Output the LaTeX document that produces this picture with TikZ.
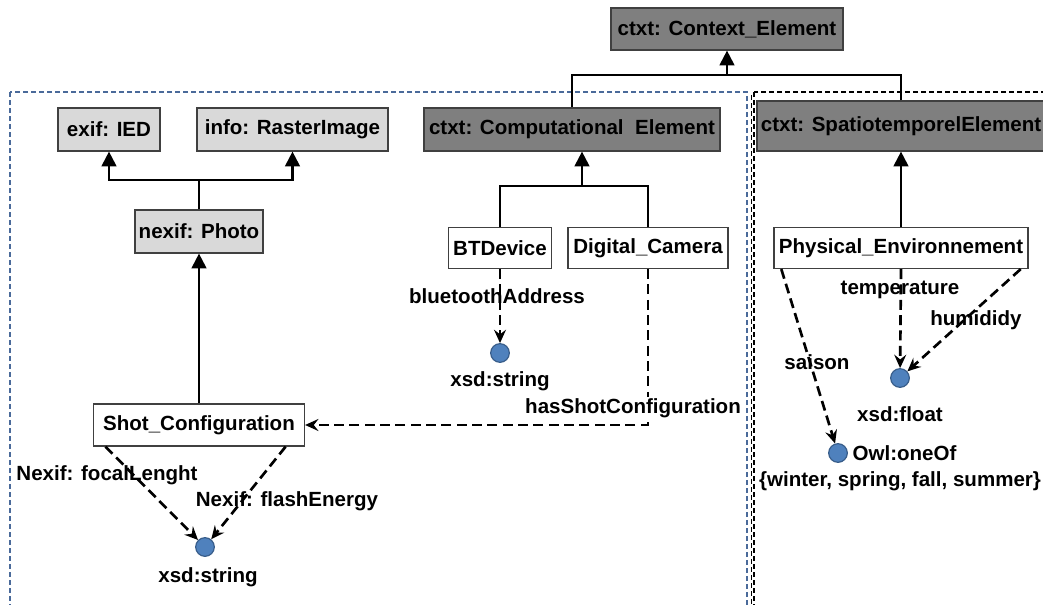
\documentclass[tikz,border=0pt]{standalone}
\usepackage{fontspec}
\setmainfont{Liberation Sans}
\usetikzlibrary{arrows.meta,calc}
\definecolor{darkbox}{HTML}{7F7F7F}
\definecolor{lightbox}{HTML}{D9D9D9}
\definecolor{frameblue}{HTML}{4A6A9A}
\definecolor{dotfill}{HTML}{4F81BD}
\definecolor{dotedge}{HTML}{385D8A}
\tikzset{
  box/.style={draw=black!75, line width=0.9pt, inner sep=2pt, font=\fontsize{15.4}{18}\selectfont\bfseries},
  darkb/.style={box, fill=darkbox},
  lightb/.style={box, fill=lightbox},
  whiteb/.style={box, fill=white},
  dot/.style={circle, fill=dotfill, draw=dotedge, line width=0.9pt, minimum size=14pt, inner sep=0pt},
  lab/.style={inner sep=1pt, font=\fontsize{15.4}{18}\selectfont\bfseries},
  inh/.style={line width=1.6pt, -{Triangle[length=11pt,width=11pt]}},
  plain/.style={line width=1.6pt},
  prop/.style={line width=2pt, dash pattern=on 7.5pt off 4pt, -{Stealth[length=10pt,width=9pt,inset=3.5pt]}},
}
\begin{document}
\begin{tikzpicture}[x=0.75pt,y=-0.75pt]
\useasboundingbox (0,0) rectangle (1043,604);
% frames
\draw[frameblue, line width=0.9pt, dash pattern=on 4pt off 2pt] (10,92) rectangle (747,612);
\draw[black, line width=0.9pt, dash pattern=on 4pt off 2pt] (754,92) rectangle (1052,612);
\draw[black, line width=0.6pt, dash pattern=on 4pt off 2pt] (751,95) -- (751,612);
% nodes
\node[darkb, minimum width=174pt, minimum height=31.5pt] (ctx) at (727,29) {ctxt: Context\_Element};
\node[lightb, minimum width=76.5pt, minimum height=32.25pt] (ied) at (109,129.5) {exif: IED};
\node[lightb, minimum width=143.25pt, minimum height=32.25pt] (raster) at (292.5,129.5) {info: RasterImage};
\node[lightb, minimum width=96pt, minimum height=32.25pt] (photo) at (199,231.5) {nexif: Photo};
\node[darkb, minimum width=222pt, minimum height=32.25pt] (comp) at (572,129.5) {ctxt: Computational\ \ Element};
\node[darkb, minimum width=216pt, minimum height=37.5pt] (spat) at (901,126) {ctxt: SpatiotemporelElement};
\node[whiteb, minimum width=77.25pt, minimum height=30.75pt] (bt) at (500,248) {BTDevice};
\node[whiteb, minimum width=120pt, minimum height=30.75pt] (cam) at (648,248) {Digital\_Camera};
\node[whiteb, minimum width=190.5pt, minimum height=30.75pt] (phys) at (901,248) {Physical\_Environnement};
\node[whiteb, minimum width=158.25pt, minimum height=31.5pt] (shot) at (199,425) {Shot\_Configuration};
% literal dots
\node[dot] (c1) at (500,353) {};
\node[dot] (c2) at (205,547) {};
\node[dot] (c3) at (900,378) {};
\node[dot] (c4) at (838,453) {};
% junctions
\coordinate (j1) at (727,75);
\coordinate (j2) at (199,180);
\coordinate (j3) at (582,186);
% inheritance
\draw[plain] (comp.north) |- (j1);
\draw[plain] (spat.north) |- (j1);
\draw[inh] (j1) -- (ctx.south);
\draw[plain] (photo.north) -- (j2);
\draw[inh] (j2) -| (ied.south);
\draw[inh] (j2) -| (raster.south);
\draw[inh] (shot.north) -- (photo.south);
\draw[plain] (bt.north) |- (j3);
\draw[plain] (cam.north) |- (j3);
\draw[inh] (j3) -- (j3 |- comp.south);
\draw[inh] (phys.north) -- (phys.north |- spat.south);
% properties
\draw[prop] (bt.south) -- (c1);
\draw[prop] (cam.south) |- (shot.east);
\draw[prop] (shot.193.7) -- (c2);
\draw[prop] (shot.-14.5) -- (c2);
\draw[prop] (phys.190.75) -- (c4);
\draw[prop] (phys.south) -- (c3);
\draw[prop] (phys.-10.65) -- (c3);
% labels
\node[lab] (l1) at (497,296) {bluetoothAddress};
\node[lab] (l2) at (500,381) {xsd:string};
\node[lab, fill=white] (l3) at (633,408) {hasShotConfiguration};
\node[lab] (l4) at (107,475) {Nexif: focalLenght};
\node[lab] (l5) at (287,501) {Nexif: flashEnergy};
\node[lab] (l6) at (208,577) {xsd:string};
\node[lab] (l7) at (900,290) {temperature};
\node[lab] (l8) at (976,320) {humididy};
\node[lab] (l9) at (817,362) {saison};
\node[lab] (l10) at (900,414) {xsd:float};
\node[lab, anchor=west] (l11) at (851,453) {Owl:oneOf};
\node[lab] (l12) at (900,481) {\{winter, spring, fall, summer\}};
\end{tikzpicture}
\end{document}
